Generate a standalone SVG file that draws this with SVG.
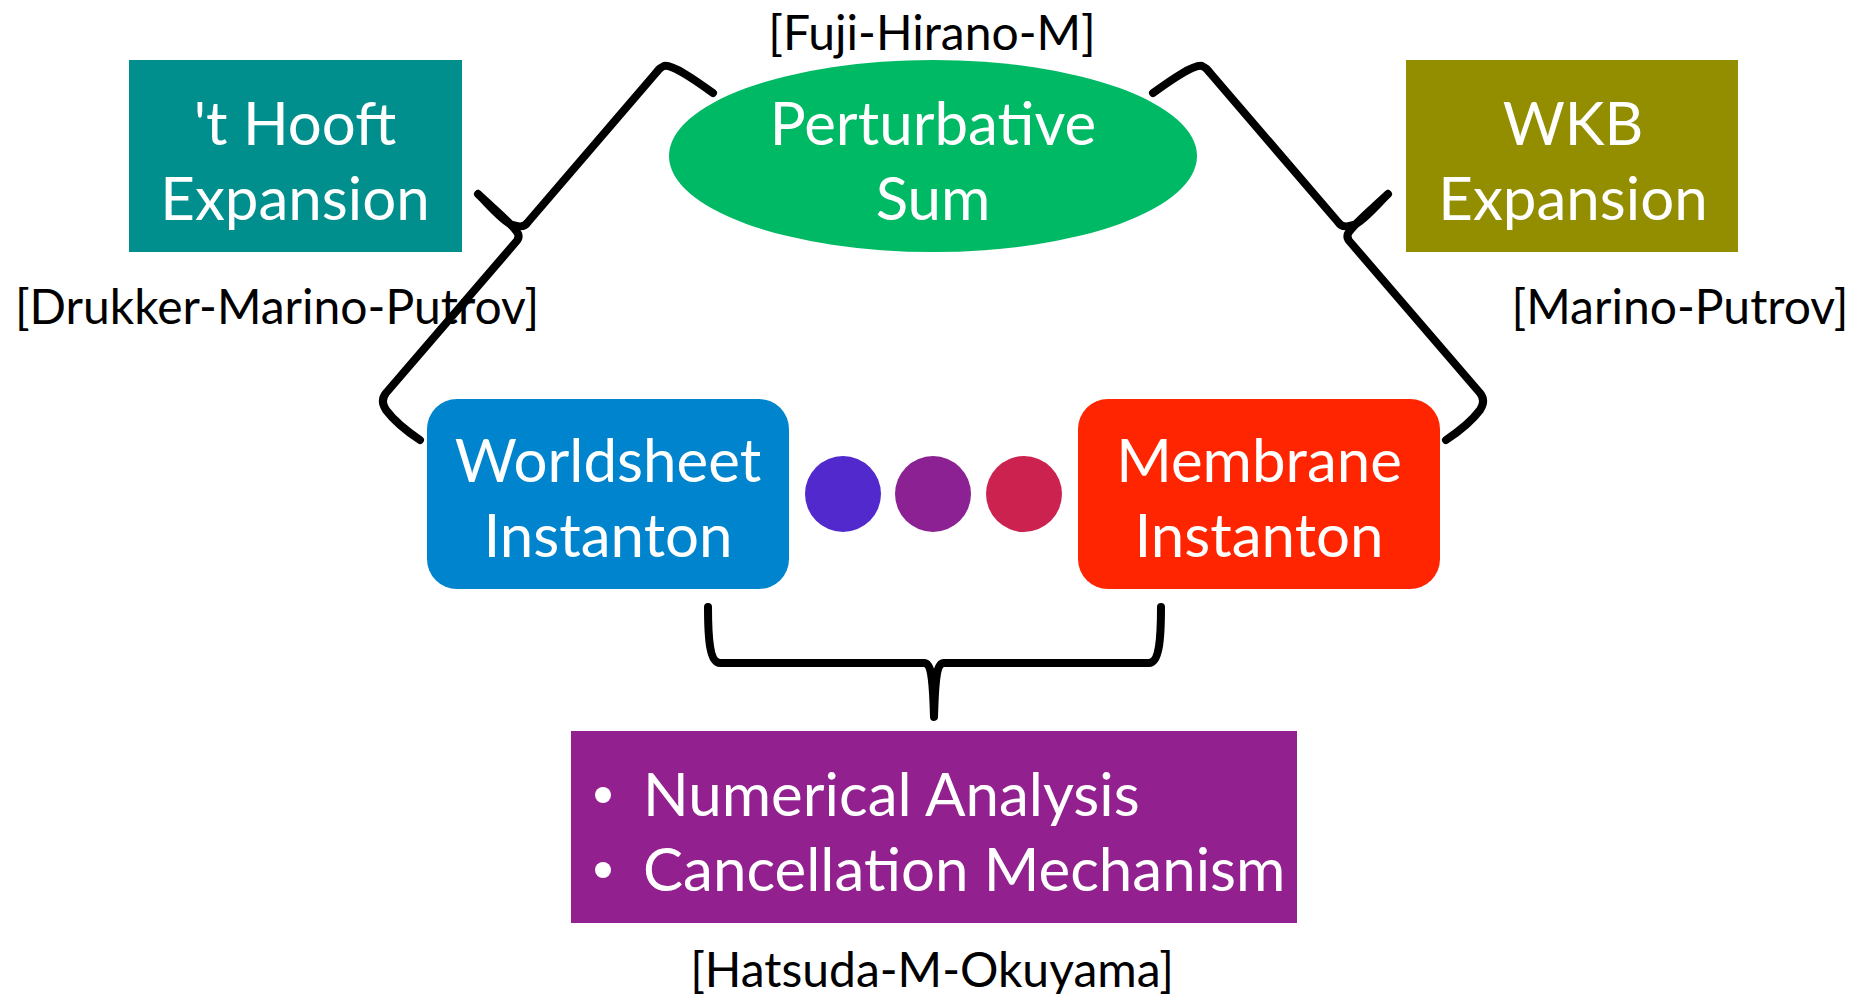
<svg xmlns="http://www.w3.org/2000/svg" width="1867" height="994" viewBox="0 0 1867 994">
<style>
.t{font-family:Lato,"Open Sans","Liberation Sans",sans-serif;fill:#fff;font-size:60px;text-anchor:middle}
.l{font-family:Lato,"Open Sans","Liberation Sans",sans-serif;fill:#000;font-size:48px;text-anchor:middle}
.b{fill:none;stroke:#000;stroke-width:8;stroke-linecap:round;stroke-linejoin:round}
</style>
<rect width="1867" height="994" fill="#fff"/>
<g id="connectors">
<path class="b" d="M713,93 C695,80 672,64 664,66 C660,68 660,68 655,74 L528,222 C524,228 518,227 510,224 C500,218 490,206 478,194 M478,194 C495,210 510,222 517,232 C520,236 518,240 515,243 L386,393 C382,398 382,404 386,410 C392,418 402,428 420,440"/>
<path class="b" d="M1153,93 C1171,80 1194,64 1202,66 C1206,68 1206,68 1211,74 L1338,222 C1342,228 1348,227 1356,224 C1366,218 1376,206 1388,194 M1388,194 C1371,210 1356,222 1349,232 C1346,236 1348,240 1351,243 L1480,393 C1484,398 1484,404 1480,410 C1474,418 1464,428 1446,440"/>
<path class="b" d="M708,607 C708,640 710,663 720,663 L924,663 C932,663 933,680 934,717 C935,680 936,663 944,663 L1149,663 C1159,663 1161,640 1161,607"/>
</g>
<g id="thooft">
<rect x="129" y="60" width="333" height="192" fill="#008F8C"/>
<text class="t" x="295" y="145">'t Hooft</text>
<text class="t" x="295" y="220">Expansion</text>
</g>
<g id="perturbative">
<ellipse cx="933" cy="156" rx="264" ry="96" fill="#00B964"/>
<text class="t" x="933" y="145">Perturbative</text>
<text class="t" x="933" y="220">Sum</text>
</g>
<g id="wkb">
<rect x="1406" y="60" width="332" height="192" fill="#938D00"/>
<text class="t" x="1573" y="145">WKB</text>
<text class="t" x="1573" y="220">Expansion</text>
</g>
<g id="worldsheet">
<rect x="427" y="399" width="362" height="190" rx="30" fill="#0084CE"/>
<text class="t" x="608" y="482">Worldsheet</text>
<text class="t" x="608" y="557">Instanton</text>
</g>
<g id="dots">
<circle cx="843" cy="494" r="38" fill="#5129CC"/>
<circle cx="933" cy="494" r="38" fill="#8C2193"/>
<circle cx="1024" cy="494" r="38" fill="#CC2250"/>
</g>
<g id="membrane">
<rect x="1078" y="399" width="362" height="190" rx="30" fill="#FF2500"/>
<text class="t" x="1259" y="482">Membrane</text>
<text class="t" x="1259" y="557">Instanton</text>
</g>
<g id="analysis">
<rect x="571" y="731" width="726" height="192" fill="#92208F"/>
<circle cx="603" cy="795" r="8" fill="#fff"/>
<circle cx="603" cy="870" r="8" fill="#fff"/>
<text class="t" x="643" y="816" style="text-anchor:start">Numerical Analysis</text>
<text class="t" x="643" y="891" style="text-anchor:start">Cancellation Mechanism</text>
</g>
<g id="labels">
<text class="l" x="932" y="50">[Fuji-Hirano-M]</text>
<text class="l" x="277" y="324">[Drukker-Marino-Putrov]</text>
<text class="l" x="1680" y="324">[Marino-Putrov]</text>
<text class="l" x="932" y="987">[Hatsuda-M-Okuyama]</text>
</g>
</svg>
